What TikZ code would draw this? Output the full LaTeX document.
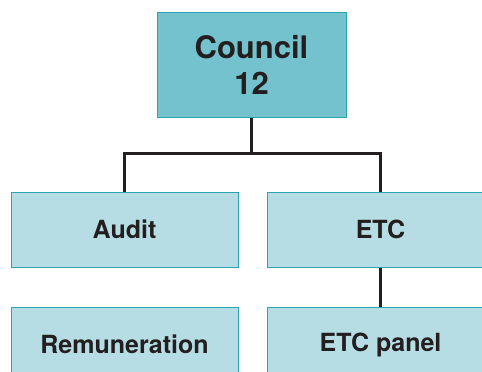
\documentclass[tikz,border=0pt]{standalone}
\usepackage{fontspec}
\setmainfont{TeX Gyre Heros}
\usepackage{xcolor}
\usepackage{tikz}
\usetikzlibrary{positioning,calc}
\definecolor{tealline}{HTML}{2AA5AE}
\definecolor{topfill}{HTML}{74C2CE}
\definecolor{subfill}{HTML}{B6DDE3}
\definecolor{inkdark}{HTML}{231F20}
\tikzset{
  board/.style={draw=tealline, line width=1pt, fill=topfill, align=center,
    minimum width=189pt, minimum height=105pt, text=inkdark,
    font=\fontsize{31}{36}\selectfont\bfseries},
  unit/.style={draw=tealline, line width=1pt, fill=subfill, align=center,
    minimum width=227pt, minimum height=75pt, text=inkdark,
    font=\fontsize{25}{29}\selectfont\bfseries},
  link/.style={draw=inkdark, line width=2.3pt},
}

\begin{document}
\begin{tikzpicture}[x=1pt, y=1pt]
\useasboundingbox (0,0) rectangle (482,-372);
\clip (0,0) rectangle (482,-372);

\node[board] (council) at (251.5,-64.5) {Council\\12};
\node[unit] (audit) at (124.5,-229.5) {Audit};
\node[unit, right=28pt of audit] (etc) {ETC};
\node[unit, below=39pt of audit] (remun) {Remuneration};
\node[unit, below=39pt of etc] (panel) {ETC panel};

% connectors
\coordinate (fork) at ($(council.south)+(0,-36)$);
\draw[link] (council.south) -- (fork);
\draw[link] (audit.north) |- (fork) -| (etc.north);
\draw[link] (etc.south) -- (panel.north);
\end{tikzpicture}
\end{document}
